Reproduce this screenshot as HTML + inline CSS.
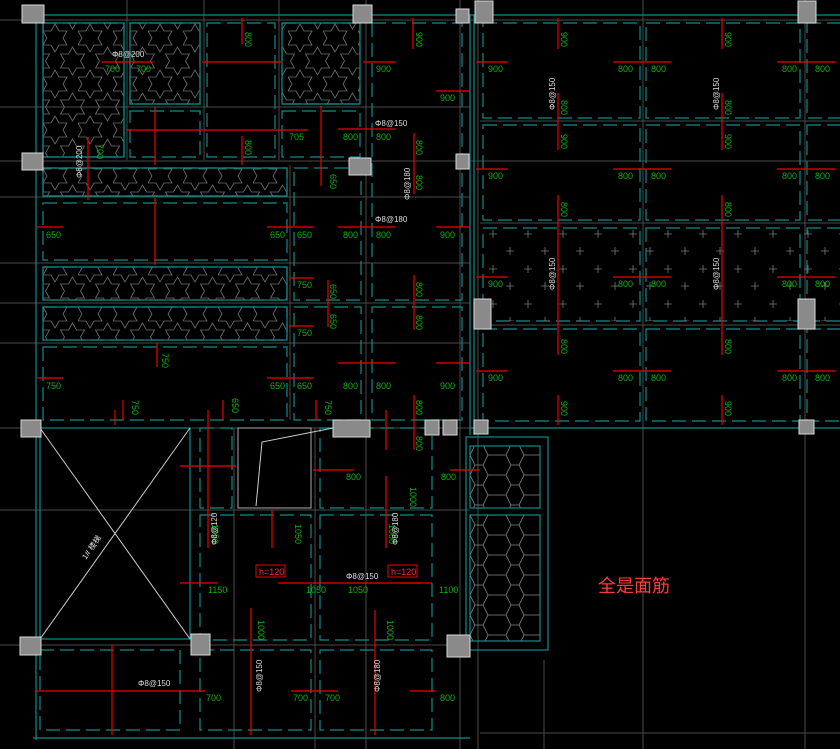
<!DOCTYPE html>
<html><head><meta charset="utf-8"><style>
html,body{margin:0;padding:0;background:#000;}
svg{display:block}
.g{fill:#10b010;font-family:"Liberation Sans",sans-serif;font-size:9px}
.w{fill:#ddd;font-family:"Liberation Sans",sans-serif;font-size:8px}
</style></head><body>
<svg width="840" height="749" viewBox="0 0 840 749" xmlns="http://www.w3.org/2000/svg">
<defs>
<pattern id="star" width="35" height="46" patternUnits="userSpaceOnUse" x="43" y="23">
<g fill="none" stroke="#707070" stroke-width="0.8">
<polygon points="12,1 16,8 24,8 20,15 24,22 16,22 12,29 8,22 0,22 4,15 0,8 8,8"/>
<polygon points="29.5,24 33.5,31 41.5,31 37.5,38 41.5,45 33.5,45 29.5,52 25.5,45 17.5,45 21.5,38 17.5,31 25.5,31"/>
<polygon points="-5.5,24 -1.5,31 6.5,31 2.5,38 6.5,45 -1.5,45 -5.5,52 -9.5,45 -17.5,45 -13.5,38 -17.5,31 -9.5,31"/>
<polygon points="29.5,-22 33.5,-15 41.5,-15 37.5,-8 41.5,-1 33.5,-1 29.5,6 25.5,-1 17.5,-1 21.5,-8 17.5,-15 25.5,-15"/>
<polygon points="-5.5,-22 -1.5,-15 6.5,-15 2.5,-8 6.5,-1 -1.5,-1 -5.5,6 -9.5,-1 -17.5,-1 -13.5,-8 -17.5,-15 -9.5,-15"/>
</g></pattern>
<pattern id="hex" width="36" height="20" patternUnits="userSpaceOnUse" x="470" y="445">
<g fill="none" stroke="#888" stroke-width="0.8">
<path d="M0,10 L5,0 L13,0 L18,10 L13,20 L5,20 Z M18,10 L36,10"/>
</g></pattern>
<pattern id="cross" width="35" height="35" patternUnits="userSpaceOnUse" x="483" y="226">
<g stroke="#777" stroke-width="0.8">
<path d="M6,8h8M10,4v8M23,25h8M27,21v8"/>
</g></pattern>
</defs>

<g stroke="#4a4a4a" stroke-width="1">
<line x1="0" y1="20" x2="840" y2="20"/>
<line x1="0" y1="107" x2="470" y2="107"/>
<line x1="0" y1="161" x2="840" y2="161"/>
<line x1="0" y1="197" x2="470" y2="197"/>
<line x1="0" y1="263" x2="470" y2="263"/>
<line x1="0" y1="303" x2="470" y2="303"/>
<line x1="0" y1="343" x2="470" y2="343"/>
<line x1="480" y1="121" x2="840" y2="121"/>
<line x1="480" y1="223" x2="840" y2="223"/>
<line x1="480" y1="325" x2="840" y2="325"/>
<line x1="0" y1="428" x2="840" y2="428"/>
<line x1="0" y1="510" x2="470" y2="510"/>
<line x1="0" y1="645" x2="470" y2="645"/>
<line x1="480" y1="733" x2="840" y2="733"/>
<line x1="127" y1="0" x2="127" y2="160"/>
<line x1="290" y1="165" x2="290" y2="420"/>
<line x1="204" y1="0" x2="204" y2="160"/>
<line x1="279" y1="0" x2="279" y2="160"/>
<line x1="366" y1="0" x2="366" y2="749"/>
<line x1="460" y1="0" x2="460" y2="749"/>
<line x1="643" y1="0" x2="643" y2="749"/>
<line x1="805" y1="0" x2="805" y2="749"/>
<line x1="234" y1="428" x2="234" y2="749"/>
<line x1="315" y1="428" x2="315" y2="749"/>
<line x1="478" y1="0" x2="478" y2="749"/>
<line x1="544" y1="660" x2="544" y2="749"/>
</g>

<g stroke="#0e8c8c" stroke-width="1.2" fill="none">
<line x1="44" y1="15" x2="840" y2="15"/>
<line x1="36" y1="15" x2="36" y2="740"/>
<line x1="33" y1="738" x2="470" y2="738"/>
<line x1="470" y1="15" x2="470" y2="435"/>
<line x1="474" y1="15" x2="474" y2="435"/>
<line x1="470" y1="428" x2="840" y2="428"/>
<rect x="466" y="437" width="82" height="213"/>
<rect x="40" y="428" width="150" height="211"/>
</g>

<g stroke="#0e8c8c" stroke-width="1.2" fill="none" stroke-dasharray="14,6">
<rect x="43" y="23" width="81" height="134"/>
<rect x="130" y="23" width="70" height="81"/>
<rect x="207" y="23" width="68" height="134"/>
<rect x="282" y="23" width="78" height="81"/>
<rect x="130" y="111" width="70" height="46"/>
<rect x="282" y="111" width="78" height="46"/>
<rect x="43" y="168" width="244" height="28"/>
<rect x="43" y="203" width="244" height="57"/>
<rect x="43" y="267" width="244" height="33"/>
<rect x="43" y="307" width="244" height="33"/>
<rect x="43" y="347" width="244" height="73"/>
<rect x="294" y="168" width="67" height="132"/>
<rect x="294" y="307" width="67" height="113"/>
<rect x="372" y="23" width="90" height="277"/>
<rect x="372" y="307" width="90" height="113"/>
<rect x="483" y="23" width="157" height="95"/>
<rect x="646" y="23" width="154" height="95"/>
<rect x="807" y="23" width="40" height="95"/>
<rect x="483" y="125" width="157" height="95"/>
<rect x="646" y="125" width="154" height="95"/>
<rect x="807" y="125" width="40" height="95"/>
<rect x="483" y="228" width="157" height="93"/>
<rect x="646" y="228" width="154" height="93"/>
<rect x="807" y="228" width="40" height="93"/>
<rect x="483" y="329" width="157" height="92"/>
<rect x="646" y="329" width="154" height="92"/>
<rect x="807" y="329" width="40" height="92"/>
<rect x="200" y="428" width="32" height="80"/>
<rect x="320" y="428" width="112" height="80"/>
<rect x="200" y="515" width="111" height="125"/>
<rect x="320" y="515" width="112" height="125"/>
<rect x="40" y="650" width="140" height="80"/>
<rect x="200" y="650" width="111" height="80"/>
<rect x="320" y="650" width="112" height="80"/>
</g>

<g stroke="#0e8c8c" stroke-width="1.2">
<rect x="43" y="23" width="81" height="134" fill="url(#star)"/>
<rect x="130" y="23" width="70" height="81" fill="url(#star)"/>
<rect x="282" y="23" width="78" height="81" fill="url(#star)"/>
<rect x="43" y="168" width="244" height="28" fill="url(#star)"/>
<rect x="43" y="267" width="244" height="33" fill="url(#star)"/>
<rect x="43" y="307" width="244" height="33" fill="url(#star)"/>
<rect x="470" y="446" width="70" height="62" fill="url(#hex)"/>
<rect x="470" y="515" width="70" height="126" fill="url(#hex)"/>
</g>
<rect x="483" y="228" width="357" height="93" fill="url(#cross)"/>

<g stroke="#ccc" stroke-width="1" fill="none">
<line x1="40" y1="428" x2="190" y2="639"/>
<line x1="190" y1="428" x2="40" y2="639"/>
<rect x="238" y="428" width="73" height="80" stroke="#aaa"/>
<polyline points="256,506 262,442 333,428"/>
</g>

<g stroke="#e00" stroke-width="1.2">
<line x1="102" y1="62" x2="153" y2="62"/><line x1="202" y1="62" x2="281" y2="62"/>
<line x1="242" y1="18" x2="242" y2="44"/><line x1="363" y1="62" x2="396" y2="62"/>
<line x1="413" y1="18" x2="413" y2="49"/><line x1="436" y1="91" x2="470" y2="91"/>
<line x1="126" y1="130" x2="308" y2="130"/><line x1="155" y1="107" x2="155" y2="165"/>
<line x1="242" y1="136" x2="242" y2="165"/><line x1="321" y1="106" x2="321" y2="186"/>
<line x1="338" y1="129" x2="396" y2="129"/><line x1="414" y1="133" x2="414" y2="194"/>
<line x1="88" y1="137" x2="88" y2="200"/><line x1="155" y1="198" x2="155" y2="265"/>
<line x1="37" y1="227" x2="63" y2="227"/><line x1="267" y1="227" x2="314" y2="227"/>
<line x1="338" y1="227" x2="396" y2="227"/><line x1="436" y1="227" x2="470" y2="227"/>
<line x1="289" y1="278" x2="314" y2="278"/><line x1="328" y1="280" x2="328" y2="327"/>
<line x1="414" y1="275" x2="414" y2="330"/><line x1="289" y1="326" x2="314" y2="326"/>
<line x1="157" y1="343" x2="157" y2="367"/><line x1="37" y1="378" x2="63" y2="378"/>
<line x1="267" y1="378" x2="314" y2="378"/><line x1="338" y1="363" x2="396" y2="363"/>
<line x1="436" y1="363" x2="470" y2="363"/><line x1="123" y1="400" x2="123" y2="420"/>
<line x1="223" y1="400" x2="223" y2="420"/><line x1="316" y1="400" x2="316" y2="420"/>
<line x1="414" y1="395" x2="414" y2="450"/><line x1="115" y1="410" x2="115" y2="425"/>
<line x1="476" y1="62" x2="508" y2="62"/><line x1="613" y1="62" x2="671" y2="62"/>
<line x1="777" y1="62" x2="836" y2="62"/><line x1="558" y1="18" x2="558" y2="49"/>
<line x1="722" y1="18" x2="722" y2="49"/><line x1="558" y1="93" x2="558" y2="150"/>
<line x1="722" y1="93" x2="722" y2="150"/>
<line x1="476" y1="169" x2="508" y2="169"/><line x1="613" y1="169" x2="671" y2="169"/>
<line x1="777" y1="169" x2="836" y2="169"/><line x1="558" y1="195" x2="558" y2="355"/>
<line x1="722" y1="195" x2="722" y2="355"/>
<line x1="476" y1="277" x2="508" y2="277"/><line x1="613" y1="277" x2="671" y2="277"/>
<line x1="777" y1="277" x2="836" y2="277"/>
<line x1="476" y1="371" x2="508" y2="371"/><line x1="613" y1="371" x2="671" y2="371"/>
<line x1="777" y1="371" x2="836" y2="371"/>
<line x1="558" y1="395" x2="558" y2="425"/><line x1="722" y1="395" x2="722" y2="425"/>
<line x1="180" y1="466" x2="236" y2="466"/><line x1="208" y1="410" x2="208" y2="548"/>
<line x1="313" y1="470" x2="353" y2="470"/><line x1="450" y1="470" x2="480" y2="470"/>
<line x1="386" y1="476" x2="386" y2="548"/><line x1="386" y1="410" x2="386" y2="450"/>
<line x1="272" y1="510" x2="272" y2="548"/>
<line x1="180" y1="583" x2="218" y2="583"/><line x1="278" y1="583" x2="350" y2="583"/>
<line x1="350" y1="583" x2="420" y2="583"/><line x1="400" y1="583" x2="432" y2="583"/>
<line x1="251" y1="608" x2="251" y2="735"/><line x1="375" y1="610" x2="375" y2="735"/>
<line x1="35" y1="691" x2="205" y2="691"/><line x1="112" y1="645" x2="112" y2="735"/>
<line x1="291" y1="691" x2="338" y2="691"/><line x1="410" y1="691" x2="436" y2="691"/>
</g>
<g fill="none" stroke="#e00" stroke-width="1">
<rect x="256" y="565" width="29" height="12"/><rect x="388" y="565" width="29" height="12"/>
</g>

<g fill="#8a8a8a" stroke="#d8d8d8" stroke-width="1">
<rect x="22" y="5" width="22" height="18"/><rect x="353" y="5" width="19" height="18"/>
<rect x="456" y="9" width="13" height="14"/><rect x="475" y="1" width="18" height="22"/>
<rect x="798" y="1" width="18" height="22"/><rect x="22" y="153" width="21" height="17"/>
<rect x="349" y="158" width="22" height="17"/><rect x="456" y="154" width="13" height="15"/>
<rect x="474" y="299" width="17" height="30"/><rect x="798" y="299" width="17" height="30"/>
<rect x="21" y="420" width="20" height="17"/><rect x="333" y="420" width="37" height="17"/>
<rect x="425" y="420" width="14" height="15"/><rect x="443" y="420" width="14" height="15"/>
<rect x="474" y="420" width="14" height="14"/><rect x="799" y="420" width="15" height="14"/>
<rect x="20" y="637" width="21" height="18"/><rect x="191" y="634" width="19" height="21"/>
<rect x="447" y="635" width="23" height="22"/>
</g>

<g class="g">
<text x="105" y="72">700</text><text x="136" y="72">700</text>
<text x="376" y="72">900</text><text x="440" y="101">900</text>
<text x="289" y="140">705</text><text x="343" y="140">800</text><text x="376" y="140">800</text>
<text x="46" y="238">650</text><text x="270" y="238">650</text><text x="297" y="238">650</text>
<text x="343" y="238">800</text><text x="376" y="238">800</text><text x="440" y="238">900</text>
<text x="297" y="288">750</text><text x="297" y="336">750</text>
<text x="46" y="389">750</text><text x="270" y="389">650</text><text x="297" y="389">650</text>
<text x="343" y="389">800</text><text x="376" y="389">800</text><text x="440" y="389">900</text>
<text x="488" y="72">900</text><text x="618" y="72">800</text><text x="651" y="72">800</text>
<text x="782" y="72">800</text><text x="815" y="72">800</text>
<text x="488" y="179">900</text><text x="618" y="179">800</text><text x="651" y="179">800</text>
<text x="782" y="179">800</text><text x="815" y="179">800</text>
<text x="488" y="287">900</text><text x="618" y="287">800</text><text x="651" y="287">800</text>
<text x="782" y="287">800</text><text x="815" y="287">800</text>
<text x="488" y="381">900</text><text x="618" y="381">800</text><text x="651" y="381">800</text>
<text x="782" y="381">800</text><text x="815" y="381">800</text>
<text x="346" y="480">800</text><text x="441" y="480">800</text>
<text x="208" y="593">1150</text><text x="306" y="593">1050</text><text x="348" y="593">1050</text>
<text x="439" y="593">1100</text>
<text x="206" y="701">700</text><text x="293" y="701">700</text><text x="325" y="701">700</text>
<text x="440" y="701">800</text>
<g transform="rotate(90)">
<text x="32" y="-245">800</text><text x="32" y="-416">900</text><text x="140" y="-245">800</text>
<text x="140" y="-416">800</text><text x="175" y="-416">800</text><text x="174" y="-330">650</text>
<text x="144" y="-97">700</text>
<text x="284" y="-330">650</text><text x="314" y="-330">650</text>
<text x="282" y="-416">800</text><text x="315" y="-416">800</text>
<text x="353" y="-162">750</text><text x="400" y="-132">750</text><text x="398" y="-232">650</text>
<text x="400" y="-325">750</text><text x="400" y="-416">800</text><text x="436" y="-416">800</text>
<text x="32" y="-561">900</text><text x="32" y="-725">900</text>
<text x="100" y="-561">800</text><text x="100" y="-725">800</text>
<text x="134" y="-561">900</text><text x="134" y="-725">900</text>
<text x="202" y="-561">800</text><text x="202" y="-725">800</text>
<text x="339" y="-561">800</text><text x="339" y="-725">800</text>
<text x="401" y="-561">900</text><text x="401" y="-725">900</text>
<text x="487" y="-410">1000</text><text x="524" y="-212">1050</text><text x="524" y="-295">1050</text>
<text x="524" y="-389">1000</text><text x="620" y="-258">1000</text><text x="620" y="-387">1000</text>
</g>
</g>

<g class="w">
<text x="112" y="57">Φ8@200</text><text x="375" y="126">Φ8@150</text><text x="375" y="222">Φ8@180</text>
<text x="346" y="579">Φ8@150</text><text x="138" y="686">Φ8@150</text>
<g transform="rotate(-90)">
<text x="-178" y="82">Φ8@200</text><text x="-200" y="410">Φ8@180</text>
<text x="-110" y="555">Φ8@150</text><text x="-110" y="719">Φ8@150</text>
<text x="-290" y="555">Φ8@150</text><text x="-290" y="719">Φ8@150</text>
<text x="-545" y="217">Φ8@120</text><text x="-545" y="398">Φ8@180</text>
<text x="-692" y="262">Φ8@150</text><text x="-692" y="380">Φ8@180</text>
</g>
<text transform="translate(86,560) rotate(-55)">1# 楼梯</text>
</g>
<g fill="#e33" font-family="Liberation Sans,sans-serif" font-size="9">
<text x="259" y="575">h=120</text><text x="391" y="575">h=120</text>
</g>
<text x="598" y="592" fill="#ff3a3a" font-family="'Liberation Sans','Noto Sans CJK SC',sans-serif" font-size="18">全是面筋</text>
</svg>
</body></html>
